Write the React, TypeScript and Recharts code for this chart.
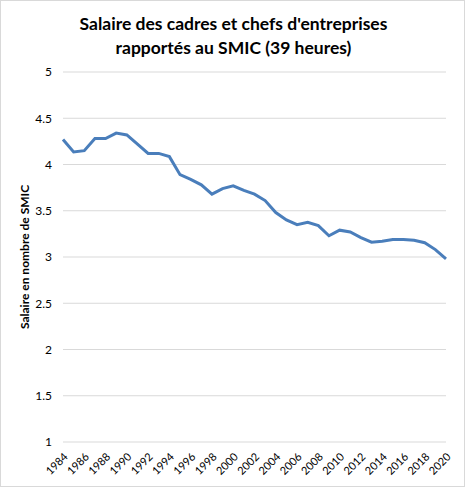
import { LineChart, Line, XAxis, YAxis, CartesianGrid, Label } from "recharts";

const annees = [
  "1984", "1985", "1986", "1987", "1988", "1989", "1990", "1991", "1992", "1993",
  "1994", "1995", "1996", "1997", "1998", "1999", "2000", "2001", "2002", "2003",
  "2004", "2005", "2006", "2007", "2008", "2009", "2010", "2011", "2012", "2013",
  "2014", "2015", "2016", "2017", "2018", "2019", "2020",
];

const salaireEnSmic = [
  4.27, 4.135, 4.15, 4.28, 4.28, 4.34, 4.32, 4.22, 4.12, 4.12,
  4.085, 3.89, 3.84, 3.78, 3.68, 3.74, 3.77, 3.72, 3.68, 3.61,
  3.48, 3.40, 3.35, 3.375, 3.34, 3.23, 3.29, 3.27, 3.21, 3.16,
  3.17, 3.19, 3.19, 3.18, 3.155, 3.08, 2.98,
];

const graduations = [1, 1.5, 2, 2.5, 3, 3.5, 4, 4.5, 5];

const data = annees.map((annee, i) => ({ annee, valeur: salaireEnSmic[i] }));

const police = "Lato, 'Liberation Sans', sans-serif";

export default function App() {
  return (
    <div
      style={{
        position: "absolute",
        top: 0,
        left: 0,
        width: 465,
        height: 487,
        boxSizing: "border-box",
        border: "1px solid #d9d9d9",
        background: "#fff",
        fontFamily: police,
      }}
    >
      <div
        style={{
          position: "absolute",
          top: 11,
          left: 0,
          width: 465,
          textAlign: "center",
          fontWeight: 700,
          fontSize: 17.5,
          lineHeight: "24px",
          color: "#000",
        }}
      >
        Salaire des cadres et chefs d'entreprises
        <br />
        rapportés au SMIC (39 heures)
      </div>
      <div style={{ position: "absolute", top: -1, left: -1 }}>
        <LineChart
          width={465}
          height={487}
          data={data}
          margin={{ top: 72, right: 19, bottom: 0, left: 0 }}
        >
          <CartesianGrid vertical={false} stroke="#d9d9d9" strokeWidth={1} />
          <XAxis
            dataKey="annee"
            height={45}
            interval={1}
            axisLine={false}
            tickLine={false}
            tickMargin={4}
            angle={-45}
            textAnchor="end"
            tick={{ fill: "#000", fontSize: 11, fontFamily: police }}
          />
          <YAxis
            width={63}
            domain={[1, 5]}
            ticks={graduations}
            axisLine={false}
            tickLine={false}
            tickMargin={5}
            tick={{ fill: "#000", fontSize: 12, fontFamily: police }}
          >
            <Label
              value="Salaire en nombre de SMIC"
              angle={-90}
              position="insideLeft"
              offset={25}
              style={{ textAnchor: "middle", fontWeight: 700, fontSize: 12, fill: "#000", fontFamily: police }}
            />
          </YAxis>
          <Line
            type="linear"
            dataKey="valeur"
            stroke="#4a7ebb"
            strokeWidth={3}
            dot={false}
            isAnimationActive={false}
          />
        </LineChart>
      </div>
    </div>
  );
}
